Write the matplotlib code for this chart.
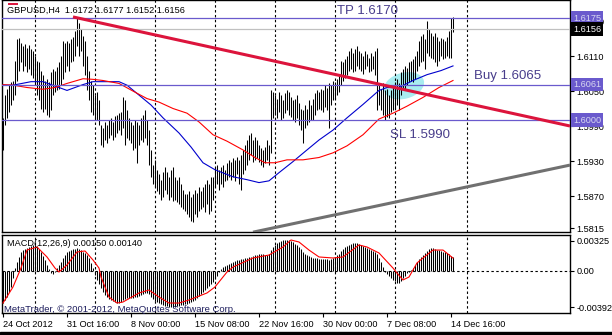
import numpy as np
import matplotlib
matplotlib.use('Agg')
import matplotlib.pyplot as plt
from matplotlib.patches import Ellipse, Rectangle
from matplotlib.transforms import ScaledTranslation

plt.rcParams['font.family'] = ['Liberation Sans', 'DejaVu Sans']

# GBPUSD H4 bars, prices in 1/10000
high = [16004, 16043, 16054, 16060, 16065, 16068, 16102, 16139, 16141, 16133,
        16127, 16131, 16124, 16129, 16122, 16119, 16110, 16102, 16099, 16085,
        16077, 16068, 16071, 16065, 16082, 16088, 16085, 16092, 16099, 16110,
        16136, 16133, 16136, 16133, 16139, 16143, 16153, 16177, 16167, 16156,
        16144, 16136, 16110, 16085, 16068, 16060, 16043, 16048, 16034, 15992,
        15987, 15997, 15992, 16000, 16004, 15997, 16007, 16009, 16012, 16014,
        16039, 16034, 16017, 16004, 15997, 15992, 16000, 15997, 15992, 16004,
        16009, 16017, 16000, 15983, 15949, 15924, 15932, 15915, 15907, 15898,
        15912, 15919, 15912, 15902, 15915, 15919, 15902, 15898, 15903, 15890,
        15881, 15873, 15873, 15878, 15868, 15873, 15881, 15876, 15885, 15878,
        15885, 15890, 15898, 15890, 15902, 15903, 15919, 15924, 15915, 15919,
        15924, 15915, 15927, 15932, 15929, 15936, 15932, 15937, 15932, 15941,
        15949, 15958, 15966, 15975, 15978, 15966, 15971, 15966, 15958, 15953,
        15949, 15954, 15966, 15958, 16051, 16048, 16043, 16037, 16048, 16043,
        16034, 16046, 16051, 16048, 16039, 16034, 16037, 16043, 16029, 16020,
        16017, 16026, 16020, 16034, 16026, 16037, 16046, 16051, 16048, 16054,
        16051, 16060, 16056, 16063, 16060, 16068, 16065, 16071, 16077, 16102,
        16099, 16105, 16110, 16119, 16124, 16116, 16122, 16127, 16119, 16116,
        16110, 16119, 16114, 16107, 16116, 16110, 16119, 16124, 16060, 16054,
        16063, 16051, 16054, 16043, 16051, 16060, 16065, 16071, 16063, 16082,
        16088, 16093, 16090, 16099, 16102, 16105, 16110, 16119, 16136, 16144,
        16148, 16139, 16170, 16156, 16150, 16144, 16150, 16143, 16136, 16141,
        16139, 16136, 16143, 16153, 16175, 16177]
low = [15949, 15992, 16004, 16014, 16026, 16034, 16043, 16068, 16085, 16099,
       16085, 16093, 16082, 16088, 16077, 16073, 16060, 16043, 16034, 16020,
       16014, 16020, 16009, 16005, 16017, 16043, 16048, 16051, 16054, 16060,
       16071, 16082, 16093, 16085, 16099, 16102, 16110, 16127, 16110, 16119,
       16093, 16077, 16051, 16034, 16014, 16009, 16004, 16000, 15992, 15958,
       15954, 15966, 15961, 15970, 15975, 15966, 15971, 15978, 15983, 15975,
       15987, 15958, 15970, 15966, 15961, 15949, 15953, 15927, 15958, 15966,
       15963, 15970, 15958, 15924, 15902, 15890, 15885, 15878, 15873, 15864,
       15868, 15881, 15873, 15864, 15869, 15861, 15864, 15859, 15856, 15852,
       15847, 15844, 15839, 15834, 15827, 15825, 15839, 15834, 15844, 15847,
       15852, 15842, 15856, 15839, 15844, 15864, 15885, 15890, 15881, 15890,
       15885, 15895, 15898, 15902, 15898, 15902, 15895, 15907, 15890, 15881,
       15907, 15915, 15924, 15932, 15941, 15929, 15932, 15936, 15929, 15924,
       15920, 15927, 15932, 15924, 15944, 16004, 16009, 16004, 16014, 16000,
       16004, 16012, 16017, 16009, 16005, 16000, 15997, 16004, 15992, 15983,
       15961, 15987, 15992, 15997, 16000, 16000, 16009, 16017, 16020, 16017,
       16014, 16022, 16017, 15987, 16026, 16034, 16037, 16043, 16048, 16060,
       16068, 16073, 16077, 16085, 16088, 16082, 16085, 16093, 16088, 16085,
       16080, 16088, 16093, 16082, 16085, 16088, 16077, 16017, 16026, 16017,
       16009, 16000, 16005, 16004, 16014, 16017, 16020, 16026, 16017, 16043,
       16051, 16054, 16060, 16065, 16068, 16065, 16071, 16085, 16093, 16099,
       16102, 16088, 16116, 16110, 16107, 16105, 16099, 16093, 16102, 16110,
       16105, 16107, 16110, 16107, 16107, 16152]

# moving averages read at a few bars
ma_fast_bar = [0, 5, 14, 20, 28, 32, 40, 45, 58, 62, 68, 74, 80, 88, 94, 100, 106, 115,
               122, 128, 133, 138, 145, 152, 158, 165, 172, 180, 188, 192, 198, 205, 212,
               219, 225]
ma_fast = [16060, 16060, 16066, 16066, 16056, 16051, 16061, 16066, 16066, 16060, 16043,
           16026, 16004, 15978, 15954, 15927, 15915, 15903, 15898, 15893, 15896, 15910,
           15929, 15949, 15966, 15983, 16004, 16027, 16051, 16056, 16056, 16068, 16078,
           16085, 16093]
ma_slow_bar = [0, 5, 12, 20, 26, 32, 40, 45, 50, 58, 66, 72, 78, 85, 92, 98, 105, 112, 120,
               126, 131, 136, 142, 150, 158, 165, 172, 180, 188, 195, 202, 210, 218, 225]
ma_slow = [16061, 16060, 16056, 16053, 16056, 16063, 16071, 16070, 16068, 16063, 16048,
           16037, 16031, 16020, 16012, 15997, 15975, 15964, 15949, 15936, 15927, 15927,
           15932, 15932, 15936, 15944, 15956, 15975, 16002, 16012, 16024, 16039, 16056,
           16068]

# MACD histogram, units of 0.00001
macd = [-347, -314, -282, -227, -173, -76, 32, 97, 152, 206,
        227, 238, 249, 260, 271, 282, 282, 271, 238, 206,
        162, 119, 65, 22, -22, -32, -11, 32, 65, 97,
        141, 173, 206, 217, 227, 238, 238, 249, 238, 227,
        206, 195, 173, 141, 87, 32, -43, -97, -141, -184,
        -227, -260, -282, -303, -314, -325, -336, -347, -347, -336,
        -314, -303, -292, -292, -292, -292, -282, -282, -271, -260,
        -249, -238, -238, -249, -282, -303, -325, -336, -347, -357,
        -368, -379, -379, -390, -390, -390, -390, -379, -379, -368,
        -368, -357, -357, -347, -336, -325, -314, -292, -271, -249,
        -227, -206, -184, -162, -141, -119, -87, -54, -11, 22,
        43, 54, 65, 76, 87, 97, 108, 119, 119, 130,
        130, 141, 141, 152, 152, 162, 173, 173, 184, 184,
        184, 173, 173, 184, 227, 260, 282, 303, 314, 325,
        336, 336, 336, 336, 325, 314, 292, 282, 260, 238,
        206, 184, 173, 162, 152, 141, 141, 141, 130, 130,
        130, 130, 130, 119, 130, 141, 152, 173, 184, 217,
        238, 260, 271, 282, 292, 303, 303, 303, 292, 282,
        271, 260, 249, 238, 227, 217, 206, 184, 141, 97,
        43, -11, -32, -54, -76, -97, -108, -130, -130, -108,
        -76, -54, -22, -11, 11, 32, 65, 97, 130, 152,
        173, 195, 217, 238, 249, 249, 238, 227, 227, 217,
        206, 206, 195, 184, 162, 150]
signal_bar = [0, 5, 9, 12, 17, 22, 26, 28, 32, 37, 41, 45, 48, 49, 53, 57, 60, 68, 73, 78,
              83, 88, 93, 102, 106, 112, 115, 125, 133, 140, 144, 148, 153, 158, 165, 170,
              178, 182, 188, 195, 197, 200, 203, 207, 210, 215, 220, 225]
signal = [-347, -173, 32, 227, 260, 152, 32, -11, 65, 206, 217, 119, 32, -65, -282, -347,
          -336, -238, -206, -282, -347, -347, -314, -238, -173, -11, 43, 141, 173, 260,
          336, 314, 227, 152, 141, 152, 282, 260, 195, 32, -22, -97, -65, 87, 141, 227,
          227, 140]

time_bars = [0, 32, 64, 96, 128, 160, 192, 224]
time_labels = ['24 Oct 2012', '31 Oct 16:00', '8 Nov 00:00', '15 Nov 08:00',
               '22 Nov 16:00', '30 Nov 00:00', '7 Dec 08:00', '14 Dec 16:00']
grid_bars = [16, 46, 76, 106, 136, 166, 196, 232]
price_ticks = [1.6170, 1.6110, 1.6050, 1.5990, 1.5930, 1.5870, 1.5815]
macd_ticks = [0.00325, 0.0, -0.00392]
macd_labels = ['0.00325', '0.00', '-0.00392']

tp_level, buy_level, sl_level, bid = 1.6175, 1.6061, 1.6000, 1.6156
red_trend = ([35, 283.5], [1.6177, 1.5990])
gray_trend = ([125, 283.5], [1.5808, 1.5923])

W, H = 612, 335
fig = plt.figure(figsize=(W / 100, H / 100), dpi=100)
fig.patch.set_facecolor('white')


def fx(px):
    return px / W


def fy(py):
    return 1 - py / H


ax = fig.add_axes([fx(2), fy(232), 568 / W, 232 / H])
ax2 = fig.add_axes([fx(2), fy(313), 568 / W, 78 / H])

n = len(high)
bars = np.arange(n)
hi = np.array(high) / 10000
lo = np.array(low) / 10000

grid_style = dict(color='black', lw=0.8, ls=(0, (2.2, 2.2)))

# ---- main chart
ax.set_xlim(-0.5, 283.5)
ax.set_ylim(1.58083, 1.62060)
for g in grid_bars:
    ax.axvline(g, zorder=1.5, **grid_style)

# highlight ellipse, size in inches around a (bar, price) centre
tr = fig.dpi_scale_trans + ScaledTranslation(200.5, 1.6059, ax.transData)
ax.add_patch(Ellipse((0, 0), 0.41, 0.26, angle=15, transform=tr,
                     fc='#a8ecf0', ec='none', zorder=1))

ax.vlines(bars, lo, hi, color='black', lw=0.75, zorder=2)

ax.plot(ma_fast_bar, np.array(ma_fast) / 10000, color='#0000cd', lw=0.8, zorder=3)
ax.plot(ma_slow_bar, np.array(ma_slow) / 10000, color='red', lw=0.8, zorder=3)

for lvl in [tp_level, buy_level, sl_level]:
    ax.axhline(lvl, color='#6a5acd', lw=0.9, zorder=3)
ax.axhline(bid, color='#c0c0c0', lw=0.9, zorder=3)

ax.plot(*red_trend, color='#dc143c', lw=2.2, solid_capstyle='butt', zorder=4)
ax.plot(*gray_trend, color='#707070', lw=2.2, solid_capstyle='butt', zorder=4)
ax.plot([3, 7], [1.6199, 1.6199], color='#dc143c', lw=1.4, zorder=4)

lbl = dict(color='#483d8b', fontsize=9.5, va='center', ha='left', zorder=5)
ax.text(167, 1.6187, 'TP 1.6170', **lbl)
ax.text(235.5, 1.6076, 'Buy 1.6065', **lbl)
ax.text(193.5, 1.5975, 'SL 1.5990', **lbl)

ax.yaxis.tick_right()
ax.set_yticks(price_ticks)
ax.set_yticklabels([f'{v:.4f}' for v in price_ticks])
ax.tick_params(axis='y', length=3, width=0.8, pad=1.5, labelsize=6.6)
ax.set_xticks([])

for val, fc, tc in [(tp_level, '#6a5acd', '#d8d8f0'), (bid, 'black', 'white'),
                    (buy_level, '#6a5acd', '#d8d8f0'), (sl_level, '#6a5acd', '#d8d8f0')]:
    ax.annotate(f'{val:.4f}', xy=(1, val), xycoords=('axes fraction', 'data'),
                xytext=(2.2, 0), textcoords='offset points', va='center', ha='left',
                fontsize=6.6, color=tc, annotation_clip=False, zorder=6,
                bbox=dict(boxstyle='square,pad=0.25', fc=fc, ec='none'))

# ---- MACD
ax2.set_xlim(-0.5, 283.5)
ax2.set_ylim(-0.00455, 0.00390)
for g in grid_bars:
    ax2.axvline(g, zorder=1, **grid_style)
ax2.axhline(0, zorder=1, **grid_style)
ax2.vlines(bars, 0, np.array(macd) * 1e-5, color='black', lw=0.75, zorder=2)
ax2.plot(signal_bar, np.array(signal) * 1e-5, color='red', lw=0.8, zorder=3)

ax2.yaxis.tick_right()
ax2.set_yticks(macd_ticks)
ax2.set_yticklabels(macd_labels)
ax2.tick_params(axis='y', length=3, width=0.8, pad=1.5, labelsize=6.6)
ax2.set_xticks(time_bars)
ax2.set_xticklabels(time_labels)
ax2.tick_params(axis='x', length=3, width=0.8, pad=2, labelsize=6.6)
for t in ax2.get_xticklabels():
    t.set_horizontalalignment('left')

for a in (ax, ax2):
    for s in a.spines.values():
        s.set_linewidth(1.0)

fig.text(fx(7), fy(10), 'GBPUSD,H4  1.6172 1.6177 1.6152 1.6156', fontsize=6.6, va='center')
fig.text(fx(7), fy(244), 'MACD(12,26,9) 0.00150 0.00140', fontsize=6.6, va='center')
fig.text(fx(4), fy(310), 'MetaTrader, \u00a9 2001-2012, MetaQuotes Software Corp.',
         fontsize=6.8, color='#1c1c5c', va='center')
fig.add_artist(Rectangle((0, 0), 1, 3 / H, transform=fig.transFigure, color='black'))

fig.savefig('out.png', dpi=100)
